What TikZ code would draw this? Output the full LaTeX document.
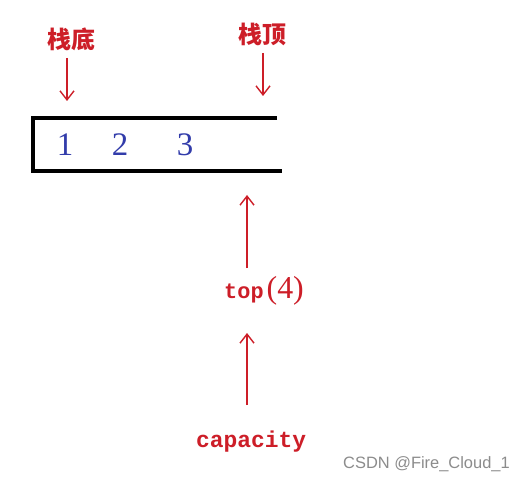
\documentclass[tikz,border=0pt]{standalone}
\usepackage{fontspec}
\setmainfont{Liberation Serif}
\newfontfamily\cjk{Noto Sans CJK SC}
\newfontfamily\monof{Liberation Mono}
\newfontfamily\wmf{Liberation Sans}
\usetikzlibrary{arrows.meta}
\definecolor{penred}{RGB}{205,30,40}
\definecolor{penblue}{RGB}{50,60,170}
\tikzset{
  redarrow/.style={draw=penred,line width=1.6bp,-{Straight Barb[length=9bp,width=14bp,line width=1.4bp]}},
  cnlabel/.style={text=penred,font=\cjk\bfseries\fontsize{24}{24}\selectfont,inner sep=0pt},
  numlabel/.style={text=penblue,font=\fontsize{33}{33}\selectfont,inner sep=0pt},
  codelabel/.style={text=penred,font=\monof\bfseries\fontsize{23}{23}\selectfont,inner sep=0pt},
  boxline/.style={draw=black,line width=4.8bp}
}
\begin{document}
\begin{tikzpicture}[x=1bp,y=-1bp]
\useasboundingbox[fill=white] (0,0) rectangle (525,483);
% box (open on the right)
\coordinate (tr) at (277,118);
\coordinate (tl) at (33,118);
\coordinate (bl) at (33,171);
\coordinate (br) at (282,171);
\draw[boxline] (tr) -- (tl) -- (bl) -- (br);
% numbers
\node[numlabel] (n1) at (65,145) {1};
\node[numlabel] (n2) at (120,145) {2};
\node[numlabel] (n3) at (185,145) {3};
% labels
\node[cnlabel] (bottom) at (71,39) {栈底};
\node[cnlabel] (topl) at (262,34) {栈顶};
\coordinate (bottomstart) at (67,58);
\coordinate (bottomtip) at (67,101);
\coordinate (topstart) at (263,53);
\coordinate (toptip) at (263,96);
\draw[redarrow] (bottomstart) -- (bottomtip);
\draw[redarrow] (topstart) -- (toptip);
% top(4)
\node[inner sep=0pt,anchor=base west] (topv) at (224,298) {\textcolor{penred}{\monof\bfseries\fontsize{22}{22}\selectfont top}\kern3bp\textcolor{penred}{\fontsize{32}{32}\selectfont(4)}};
\coordinate (boxarrow) at (247,195);
\coordinate (topvarrow) at (247,268);
\draw[redarrow] (topvarrow) -- (boxarrow);
\node[codelabel,anchor=base west] (cap) at (196,447) {capacity};
\coordinate (toparrow) at (247,333);
\coordinate (caparrow) at (247,405);
\draw[redarrow] (caparrow) -- (toparrow);
% watermark
\node[inner sep=0pt,anchor=west,text=black!45,font=\wmf\fontsize{16.5}{16.5}\selectfont] (wm) at (343,464) {CSDN @Fire\_Cloud\_1};
\end{tikzpicture}
\end{document}
